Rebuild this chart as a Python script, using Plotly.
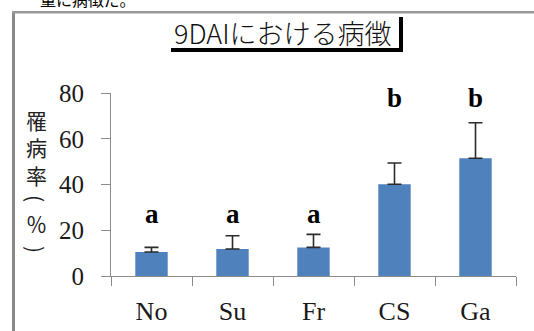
import plotly.graph_objects as go

# Disease incidence at 9 days after inoculation
categories = ["No", "Su", "Fr", "CS", "Ga"]
incidence = [10.5, 11.8, 12.5, 40.1, 51.5]
error_plus = [2.0, 5.8, 5.7, 9.3, 15.5]
letters = ["a", "a", "a", "b", "b"]
letter_heights = [27, 27, 27, 78, 78]
y_ticks = [0, 20, 40, 60, 80]

W, H = 534, 331
# plot area in pixels
L, R, T, B = 111, 516, 93, 276


def px(x):
    return (x - L) / (R - L)


def py(y):
    return (B - y) / (B - T)


fig = go.Figure()
fig.add_trace(go.Bar(
    x=categories,
    y=incidence,
    marker=dict(color="#4F81BD", line=dict(width=0)),
    error_y=dict(type="data", symmetric=False, array=error_plus,
                 arrayminus=[0] * len(error_plus),
                 color="#2b2b2b", thickness=1.6, width=7),
    showlegend=False,
))

annotations = []
for cat, lab, yv in zip(categories, letters, letter_heights):
    annotations.append(dict(
        x=cat, y=yv, xref="x", yref="y", text=f"<b>{lab}</b>", showarrow=False,
        font=dict(family="Liberation Serif", size=27, color="#000000"),
        xanchor="center", yanchor="middle",
    ))

# vertical axis title, written top to bottom
ytitle_font = dict(family="Noto Sans CJK JP", size=21, color="#222222")
annotations.append(dict(
    x=px(36), y=py(147), xref="paper", yref="paper",
    text="罹<br>病<br>率", showarrow=False, font=ytitle_font,
    xanchor="center", yanchor="middle", align="center",
))
for ch, ypix, ang in [("(", 198, 90), ("％", 223, 0), (")", 249, 90)]:
    annotations.append(dict(
        x=px(36), y=py(ypix), xref="paper", yref="paper",
        text=ch, showarrow=False, textangle=ang, font=ytitle_font,
        xanchor="center", yanchor="middle",
    ))

# chart title
annotations.append(dict(
    x=px(283), y=py(32), xref="paper", yref="paper",
    text="9DAIにおける病徴", showarrow=False,
    font=dict(family="Noto Sans CJK JP", size=27, color="#111111", weight=300),
    xanchor="center", yanchor="middle",
))

# running text of the page above the frame
annotations.append(dict(
    x=px(38), y=py(-1), xref="paper", yref="paper",
    text="量に病徴だ。", showarrow=False,
    font=dict(family="Noto Sans CJK JP", size=16, color="#000000"),
    xanchor="left", yanchor="middle",
))

shapes = [
    # frame around the chart
    dict(type="rect", xref="paper", yref="paper",
         x0=px(12), x1=px(15), y0=py(12), y1=py(H + 5),
         fillcolor="#8a8a8a", line=dict(width=0), layer="above"),
    dict(type="rect", xref="paper", yref="paper",
         x0=px(12), x1=px(W + 5), y0=py(11), y1=py(13.5),
         fillcolor="#9a9a9a", line=dict(width=0), layer="above"),
    # title box shadow
    dict(type="rect", xref="paper", yref="paper",
         x0=px(171), x1=px(403), y0=py(48), y1=py(52),
         fillcolor="#000000", line=dict(width=0), layer="above"),
    dict(type="rect", xref="paper", yref="paper",
         x0=px(399), x1=px(403), y0=py(17), y1=py(52),
         fillcolor="#000000", line=dict(width=0), layer="above"),
]

fig.update_layout(
    width=W, height=H,
    margin=dict(l=L, r=W - R, t=T, b=H - B, pad=0),
    paper_bgcolor="white", plot_bgcolor="white",
    bargap=0.6,
    annotations=annotations,
    shapes=shapes,
    xaxis=dict(
        showline=True, linecolor="#8c8c8c", linewidth=1.2,
        ticks="outside", tickson="boundaries", ticklen=9,
        tickcolor="#8c8c8c", tickwidth=1.2,
        tickfont=dict(family="Liberation Serif", size=26, color="#1a1a1a"),
        ticklabelstandoff=12, automargin=False,
        showgrid=False, zeroline=False,
    ),
    yaxis=dict(
        range=[0, 80], tickvals=y_ticks,
        showline=True, linecolor="#8c8c8c", linewidth=1.2,
        ticks="outside", ticklen=9, tickcolor="#8c8c8c", tickwidth=1.2,
        tickfont=dict(family="Liberation Serif", size=25, color="#1a1a1a"),
        ticklabelstandoff=12, automargin=False,
        showgrid=False, zeroline=False,
    ),
)

fig.write_html("out.html")
